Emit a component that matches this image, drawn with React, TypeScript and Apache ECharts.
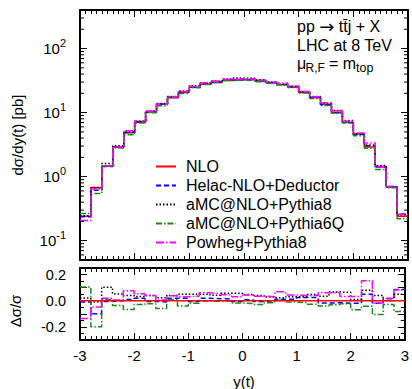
import React, { useEffect, useRef } from "react";
import * as echarts from "echarts";

// Rapidity bins of the top quark, width 0.2
const binEdges = [
  -3, -2.8, -2.6, -2.4, -2.2, -2, -1.8, -1.6, -1.4, -1.2, -1, -0.8, -0.6, -0.4, -0.2, 0,
  0.2, 0.4, 0.6, 0.8, 1, 1.2, 1.4, 1.6, 1.8, 2, 2.2, 2.4, 2.6, 2.8, 3,
];

// NLO dσ/dy(t) in pb per bin
const nlo = [
  0.24, 0.68, 1.45, 2.9, 4.85, 7.1, 10.2, 13.6, 17.1, 20.7, 25.0, 27.6, 29.6, 31.7, 32.7,
  32.7, 31.2, 29.2, 27.2, 25.0, 20.6, 17.0, 13.5, 10.1, 7.1, 4.65, 2.9, 1.44, 0.69, 0.24,
];

// Relative deviations Δσ/σ with respect to NLO
const nloRatio = [
  0, 0, 0, 0, 0, 0, 0, 0, 0, 0, 0, 0, 0, 0, 0,
  0, 0, 0, 0, 0, 0, 0, 0, 0, 0, 0, 0, 0, 0, 0,
];
const helacRatio = [
  -0.01, -0.1, -0.005, 0.0, 0.01, 0.018, -0.005, -0.01, 0.018, 0.018, -0.005, 0.018, 0.015, 0.015, -0.005,
  0.008, -0.005, 0.0, 0.012, 0.012, 0.025, 0.025, -0.018, -0.015, -0.02, -0.02, 0.05, -0.02, 0.015, 0.085,
];
const amcP8Ratio = [
  0.02, -0.01, 0.103, 0.052, 0.039, 0.033, 0.04, 0.022, 0.04, 0.049, 0.05, 0.05, 0.042, 0.058, 0.058,
  0.048, 0.04, 0.028, 0.022, 0.03, 0.03, 0.048, 0.034, 0.066, 0.064, 0.01, 0.08, 0.04, 0.0, 0.05,
];
const amcP6QRatio = [
  0.105, -0.198, 0.008, -0.037, -0.067, -0.029, -0.023, -0.06, 0.009, -0.04, -0.019, -0.003, -0.005, -0.002, -0.017,
  -0.021, -0.028, -0.015, 0.004, -0.01, -0.015, -0.027, -0.04, -0.03, -0.023, -0.068, -0.042, -0.105, -0.028, -0.082,
];
const powhegRatio = [
  -0.135, -0.048, 0.018, 0.005, 0.076, 0.054, 0.04, 0.005, 0.038, 0.03, 0.035, 0.06, 0.055, 0.045, 0.03,
  0.044, 0.035, 0.03, 0.068, 0.044, 0.04, 0.04, 0.06, 0.063, 0.032, 0.032, 0.152, -0.018, 0.018, 0.082,
];

const seriesNames = [
  "NLO",
  "Helac-NLO+Deductor",
  "aMC@NLO+Pythia8",
  "aMC@NLO+Pythia6Q",
  "Powheg+Pythia8",
];
const seriesRatios = [nloRatio, helacRatio, amcP8Ratio, amcP6QRatio, powhegRatio];
const seriesColors = ["#ff0000", "#0000ff", "#000000", "#1a8a1a", "#ff00ff"];
const seriesDashes: (number[] | "solid")[] = [
  "solid",
  [5, 3],
  [1.5, 2],
  [6, 2, 1.5, 2],
  [8, 2, 1.5, 2],
];

// axis ranges
const xMin = -3;
const xMax = 3;
const logMin = 0.05;
const logMax = 400;
const ratioMin = -0.3;
const ratioMax = 0.25;

const FONT = "'Liberation Sans', Arial, Helvetica, sans-serif";

// step-line points: left edge of every bin plus the closing edge
function stepPoints(vals: number[]) {
  const pts: number[][] = vals.map((v, i) => [binEdges[i], v]);
  pts.push([binEdges[binEdges.length - 1], vals[vals.length - 1]]);
  return pts;
}

// minor tick positions of the logarithmic axis (2..9 × 10^k)
function logMinorTicks() {
  const out: number[][] = [];
  for (let k = -2; k <= 2; k++) {
    for (let m = 2; m <= 9; m++) {
      const v = m * Math.pow(10, k);
      if (v > logMin && v < logMax) out.push([xMin, v]);
    }
  }
  return out;
}

export default function App() {
  const ref = useRef<HTMLDivElement>(null);

  useEffect(() => {
    if (!ref.current) return;
    const chart = echarts.init(ref.current, null, { renderer: "svg" });

    const axisLine = { show: true, onZero: false, lineStyle: { color: "#000", width: 2 } };
    const tick = { show: true, inside: true, length: 7, lineStyle: { color: "#000", width: 1 } };
    const xBase = {
      type: "value",
      min: xMin,
      max: xMax,
      interval: 1,
      axisLine,
      axisTick: tick,
      minorTick: { show: true, splitNumber: 10, length: 4, lineStyle: { color: "#000", width: 1 } },
      splitLine: { show: false },
      axisLabel: { show: false },
    };
    const logBase = {
      type: "log",
      logBase: 10,
      min: logMin,
      max: logMax,
      gridIndex: 0,
      axisLine,
      axisTick: tick,
      splitLine: { show: false },
    };
    const ratioBase = {
      type: "value",
      min: ratioMin,
      max: ratioMax,
      interval: 0.1,
      gridIndex: 1,
      axisLine,
      axisTick: tick,
      minorTick: { show: true, splitNumber: 2, length: 4, lineStyle: { color: "#000", width: 1 } },
      splitLine: { show: false },
    };

    const topSeries = seriesNames.map((name, i) => ({
      name,
      type: "line",
      xAxisIndex: 0,
      yAxisIndex: 0,
      step: "end",
      symbol: "none",
      z: 3 + i,
      lineStyle: { color: seriesColors[i], width: 1.5, type: seriesDashes[i] },
      itemStyle: { color: seriesColors[i] },
      data: stepPoints(nlo.map((v, j) => v * (1 + seriesRatios[i][j]))),
    }));

    const ratioSeries = seriesNames.map((name, i) => ({
      name,
      type: "line",
      xAxisIndex: 2,
      yAxisIndex: 2,
      step: "end",
      symbol: "none",
      z: i === 0 ? 10 : 3 + i,
      lineStyle: { color: seriesColors[i], width: 1.5, type: seriesDashes[i] },
      itemStyle: { color: seriesColors[i] },
      data: stepPoints(seriesRatios[i]),
    }));

    const minorTickSeries = {
      type: "custom",
      xAxisIndex: 0,
      yAxisIndex: 0,
      silent: true,
      z: 20,
      renderItem: (_params: any, api: any) => {
        const v = api.value(1);
        const pl = api.coord([xMin, v]);
        const pr = api.coord([xMax, v]);
        const st = { stroke: "#000", lineWidth: 1 };
        return {
          type: "group",
          children: [
            { type: "line", shape: { x1: pl[0], y1: pl[1], x2: pl[0] + 4, y2: pl[1] }, style: st },
            { type: "line", shape: { x1: pr[0], y1: pr[1], x2: pr[0] - 4, y2: pr[1] }, style: st },
          ],
        };
      },
      data: logMinorTicks(),
    };

    const txt = (text: string, x: number, y: number, size: number, extra: any = {}) => ({
      type: "text",
      x,
      y,
      style: {
        text,
        fill: "#000",
        fontSize: size,
        fontFamily: FONT,
        align: "left",
        verticalAlign: "middle",
        ...extra,
      },
    });

    chart.setOption({
      animation: false,
      textStyle: { fontFamily: FONT, color: "#000" },
      grid: [
        { left: 80, top: 10, width: 328, height: 250, show: false },
        { left: 80, top: 268, width: 328, height: 72, show: false },
      ],
      xAxis: [
        { ...xBase, gridIndex: 0, position: "bottom" },
        { ...xBase, gridIndex: 0, position: "top" },
        {
          ...xBase,
          gridIndex: 1,
          position: "bottom",
          axisLabel: {
            show: true,
            color: "#000",
            fontSize: 15,
            margin: 8,
            fontFamily: FONT,
            formatter: (v: number) => String(Math.round(v)),
          },
        },
        { ...xBase, gridIndex: 1, position: "top" },
      ],
      yAxis: [
        {
          ...logBase,
          position: "left",
          axisLabel: {
            show: true,
            margin: 14,
            showMinLabel: false,
            showMaxLabel: false,
            formatter: (v: number) => {
              const e = Math.log10(v);
              if (Math.abs(e - Math.round(e)) > 1e-6) return "";
              return `{b|10}{s|${Math.round(e)}}`;
            },
            rich: {
              b: { fontSize: 15, lineHeight: 22, color: "#000", fontFamily: FONT },
              s: { fontSize: 11, lineHeight: 8, verticalAlign: "top", color: "#000", fontFamily: FONT },
            },
          },
        },
        { ...logBase, position: "right", axisLabel: { show: false } },
        {
          ...ratioBase,
          position: "left",
          axisLabel: {
            show: true,
            color: "#000",
            fontSize: 14.5,
            margin: 14,
            fontFamily: FONT,
            showMaxLabel: false,
            formatter: (v: number) => {
              const k = Math.round(v * 10);
              if (k % 2 !== 0 || Math.abs(v) > 0.21) return "";
              return (k / 10).toFixed(1);
            },
          },
        },
        { ...ratioBase, position: "right", axisLabel: { show: false } },
      ],
      legend: {
        data: seriesNames,
        orient: "vertical",
        left: 150,
        top: 152,
        itemWidth: 20,
        itemHeight: 10,
        itemGap: 0,
        selectedMode: false,
        itemStyle: { color: "rgba(0,0,0,0)", borderColor: "rgba(0,0,0,0)", borderWidth: 0, opacity: 0 },
        textStyle: { fontSize: 16, lineHeight: 19, color: "#000", fontFamily: FONT, padding: [0, 0, 0, 5] },
      },
      graphic: [
        {
          type: "text",
          x: 297,
          y: 26.9,
          style: {
            text: "{a|pp }{r|\u2192}{a| tt\u0304j + X}",
            fill: "#000",
            align: "left",
            verticalAlign: "middle",
            rich: {
              a: { fontSize: 16, fontFamily: FONT, fill: "#000" },
              r: { fontSize: 18, fontFamily: "'DejaVu Sans', sans-serif", fill: "#000" },
            },
          },
        },
        txt("LHC at 8 TeV", 297, 45.2, 16),
        txt("\u03bc", 297, 63.3, 16),
        txt("R,F", 305.5, 68, 12),
        txt(" = m", 324.5, 63.3, 16),
        txt("top", 356, 68, 12.5),
        {
          ...txt("d\u03c3/dy(t) [pb]", 17, 135, 15, { align: "center" }),
          rotation: Math.PI / 2,
        },
        {
          ...txt("\u0394\u03c3/\u03c3", 15, 311, 15, { align: "center" }),
          rotation: Math.PI / 2,
        },
        txt("y(t)", 244, 381, 15, { align: "center" }),
      ],
      series: [...topSeries, ...ratioSeries, minorTickSeries],
    });

    return () => chart.dispose();
  }, []);

  return (
    <div
      ref={ref}
      style={{ position: "absolute", left: 0, top: 0, width: 412, height: 389, background: "#fff" }}
    />
  );
}
